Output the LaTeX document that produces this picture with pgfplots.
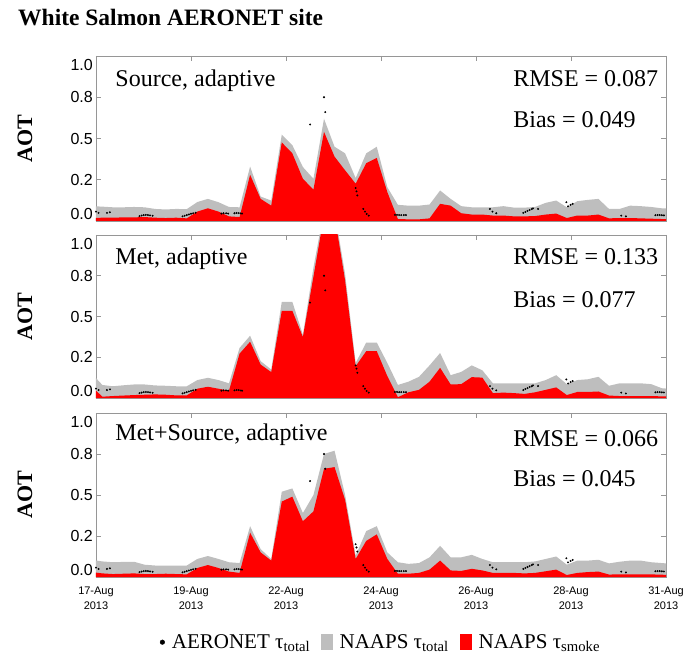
\documentclass[border=0pt]{standalone}
\usepackage{pgfplots}
\pgfplotsset{compat=1.18}
\usepackage{pgfplotstable}
\usepackage{fontspec}
\setmainfont{Liberation Serif}
\newfontfamily\sansf{Liberation Sans}
\definecolor{naapsgray}{RGB}{190,190,190}
\definecolor{smokered}{RGB}{255,0,0}
\definecolor{axisgray}{RGB}{150,150,150}

% day since 17-Aug-2013 00 UTC, NAAPS total AOT, NAAPS smoke AOT
\pgfplotstableread{
x G R
-0.10 0.090 0.018
0.15 0.087 0.020
0.40 0.083 0.020
0.65 0.083 0.022
0.90 0.085 0.022
1.15 0.083 0.024
1.40 0.073 0.020
1.65 0.070 0.018
1.90 0.073 0.020
2.15 0.072 0.016
2.40 0.115 0.057
2.65 0.134 0.077
2.90 0.114 0.057
3.15 0.085 0.028
3.40 0.083 0.024
3.65 0.330 0.280
3.90 0.148 0.134
4.15 0.124 0.093
4.40 0.524 0.476
4.65 0.460 0.410
4.90 0.327 0.256
5.15 0.256 0.190
5.40 0.620 0.540
5.65 0.450 0.390
5.90 0.410 0.307
6.15 0.260 0.226
6.40 0.410 0.350
6.65 0.450 0.382
6.90 0.205 0.175
7.15 0.098 0.012
7.40 0.093 0.010
7.65 0.093 0.010
7.90 0.100 0.016
8.15 0.185 0.104
8.40 0.134 0.093
8.65 0.090 0.047
8.90 0.083 0.039
9.15 0.083 0.039
9.40 0.083 0.033
9.65 0.090 0.033
9.90 0.081 0.028
10.15 0.081 0.028
10.40 0.085 0.030
10.65 0.110 0.039
10.90 0.124 0.045
11.15 0.083 0.018
11.40 0.120 0.033
11.65 0.128 0.033
11.90 0.134 0.039
12.15 0.073 0.016
12.40 0.073 0.018
12.65 0.093 0.018
12.90 0.090 0.016
13.15 0.085 0.014
13.40 0.077 0.012
13.65 0.077 0.012
}\srcdata

\pgfplotstableread{
x G R
-0.10 0.150 0.070
0.15 0.080 0.008
0.40 0.072 0.012
0.65 0.078 0.015
0.90 0.083 0.018
1.15 0.083 0.020
1.40 0.077 0.022
1.65 0.075 0.020
1.90 0.072 0.016
2.15 0.072 0.016
2.40 0.110 0.057
2.65 0.124 0.069
2.90 0.110 0.057
3.15 0.090 0.045
3.40 0.307 0.272
3.65 0.382 0.345
3.90 0.226 0.205
4.15 0.175 0.159
4.40 0.590 0.535
4.65 0.590 0.535
4.90 0.388 0.374
5.15 0.800 0.745
5.40 1.150 1.120
5.65 1.150 1.120
5.90 0.760 0.720
6.15 0.215 0.195
6.40 0.340 0.287
6.65 0.340 0.287
6.90 0.215 0.134
7.15 0.080 0.005
7.40 0.100 0.035
7.65 0.130 0.050
7.90 0.200 0.100
8.15 0.276 0.185
8.40 0.140 0.083
8.65 0.160 0.085
8.90 0.200 0.128
9.15 0.170 0.125
9.40 0.090 0.030
9.65 0.090 0.033
9.90 0.090 0.030
10.15 0.090 0.025
10.40 0.090 0.035
10.65 0.110 0.050
10.90 0.140 0.065
11.15 0.085 0.018
11.40 0.110 0.037
11.65 0.115 0.037
11.90 0.130 0.040
12.15 0.075 0.015
12.40 0.090 0.012
12.65 0.090 0.012
12.90 0.090 0.012
13.15 0.085 0.012
13.40 0.060 0.010
13.65 0.055 0.010
}\metdata

\pgfplotstableread{
x G R
-0.10 0.105 0.030
0.15 0.095 0.022
0.40 0.090 0.018
0.65 0.092 0.020
0.90 0.093 0.022
1.15 0.075 0.018
1.40 0.070 0.018
1.65 0.070 0.020
1.90 0.070 0.018
2.15 0.070 0.016
2.40 0.110 0.055
2.65 0.128 0.073
2.90 0.110 0.055
3.15 0.090 0.033
3.40 0.085 0.025
3.65 0.310 0.270
3.90 0.170 0.150
4.15 0.110 0.100
4.40 0.520 0.460
4.65 0.540 0.490
4.90 0.390 0.340
5.15 0.500 0.400
5.40 0.750 0.660
5.65 0.770 0.670
5.90 0.500 0.470
6.15 0.130 0.110
6.40 0.280 0.220
6.65 0.310 0.260
6.90 0.150 0.110
7.15 0.090 0.020
7.40 0.080 0.020
7.65 0.085 0.025
7.90 0.120 0.045
8.15 0.190 0.100
8.40 0.120 0.040
8.65 0.120 0.037
8.90 0.135 0.050
9.15 0.110 0.040
9.40 0.090 0.025
9.65 0.090 0.025
9.90 0.090 0.025
10.15 0.090 0.022
10.40 0.095 0.025
10.65 0.110 0.035
10.90 0.125 0.045
11.15 0.075 0.012
11.40 0.100 0.025
11.65 0.100 0.030
11.90 0.105 0.033
12.15 0.083 0.015
12.40 0.093 0.016
12.65 0.100 0.016
12.90 0.100 0.016
13.15 0.090 0.016
13.40 0.085 0.014
13.65 0.080 0.012
}\msdata

% AERONET total AOT observations
\pgfplotstableread{
x y
0.00 0.057
0.06 0.049
0.26 0.049
0.33 0.053
1.03 0.030
1.08 0.033
1.13 0.036
1.18 0.037
1.23 0.036
1.28 0.034
1.34 0.032
2.05 0.028
2.10 0.032
2.15 0.036
2.20 0.040
2.25 0.044
2.30 0.047
2.36 0.050
2.97 0.045
3.02 0.047
3.08 0.047
3.13 0.045
3.28 0.047
3.33 0.049
3.38 0.048
3.43 0.046
3.46 0.045
5.07 0.585
5.40 0.750
5.43 0.660
6.15 0.200
6.17 0.180
6.19 0.155
6.33 0.073
6.37 0.057
6.41 0.043
6.46 0.033
7.08 0.037
7.13 0.037
7.18 0.036
7.23 0.036
7.29 0.036
7.34 0.036
9.33 0.073
9.39 0.057
9.48 0.047
10.12 0.049
10.17 0.055
10.22 0.061
10.27 0.067
10.32 0.072
10.35 0.077
10.47 0.073
11.14 0.114
11.18 0.089
11.24 0.098
11.29 0.104
12.44 0.033
12.55 0.028
13.25 0.035
13.30 0.036
13.35 0.036
13.40 0.035
13.45 0.034
}\aerodata

\pgfplotsset{
  panel/.style={
    scale only axis, width=570pt,
    xmin=0, xmax=13.5, ymin=0, ymax=1,
    xtick={0,2.25,4.5,6.75,9,11.25,13.5},
    ytick={0,0.25,0.5,0.75,1},
    yticklabels={\smash{\raisebox{1.2pt}{0.0}},0.2,0.5,0.8,\smash{\raisebox{-14.8pt}{1.0}}},
    tick align=inside, tick pos=both, major tick length=5pt,
    axis line style={axisgray, line width=0.7pt},
    every tick/.style={axisgray, line width=0.7pt},
    /pgf/number format/assume math mode=true,
    ticklabel style={font=\sansf\fontsize{16}{16}\selectfont},
    yticklabel style={inner sep=3pt},
    ylabel={AOT},
    ylabel style={font=\bfseries\fontsize{22}{22}\selectfont, at={(axis description cs:-0.1246,0.5)}, anchor=center},
  },
}
\tikzset{ptext/.style={font=\fontsize{24}{24}\selectfont}}

\begin{document}
\begin{tikzpicture}
\path[use as bounding box] (0pt,0pt) rectangle (686pt,657pt);
\node[anchor=base west, font=\bfseries\fontsize{23.5}{23.5}\selectfont, inner sep=0pt] at (18pt,631.3pt) {White Salmon AERONET site};

% Panel 1
\begin{axis}[panel, height=165pt, at={(96pt,436pt)}, anchor=south west, xticklabels={}]
\addplot[fill=naapsgray, draw=none] table[x=x, y=G] {\srcdata} \closedcycle;
\addplot[fill=smokered, draw=none] table[x=x, y=R] {\srcdata} \closedcycle;
\addplot[only marks, mark=*, mark size=0.75pt, black] table[x=x, y=y] {\aerodata};
\node[ptext, anchor=base west] at (rel axis cs:0.028,0.814) {Source, adaptive};
\node[ptext, anchor=base west] at (rel axis cs:0.726,0.814) {RMSE = 0.087};
\node[ptext, anchor=base west] at (rel axis cs:0.726,0.564) {Bias = 0.049};
\end{axis}

% Panel 2
\begin{axis}[panel, height=163pt, at={(96pt,259pt)}, anchor=south west, xticklabels={}]
\addplot[fill=naapsgray, draw=none] table[x=x, y=G] {\metdata} \closedcycle;
\addplot[fill=smokered, draw=none] table[x=x, y=R] {\metdata} \closedcycle;
\addplot[only marks, mark=*, mark size=0.75pt, black] table[x=x, y=y] {\aerodata};
\node[ptext, anchor=base west] at (rel axis cs:0.028,0.816) {Met, adaptive};
\node[ptext, anchor=base west] at (rel axis cs:0.726,0.816) {RMSE = 0.133};
\node[ptext, anchor=base west] at (rel axis cs:0.726,0.558) {Bias = 0.077};
\end{axis}

% Panel 3
\begin{axis}[panel, height=164pt, at={(96pt,80pt)}, anchor=south west,
  xticklabels={{17-Aug\\2013},{19-Aug\\2013},{22-Aug\\2013},{24-Aug\\2013},{26-Aug\\2013},{28-Aug\\2013},{31-Aug\\2013}},
  xticklabel style={align=center, font=\sansf\fontsize{11}{15}\selectfont, yshift=-6pt},
  legend style={draw=none, fill=none, at={(0.5,-0.47)}, anchor=south, legend columns=3,
    font=\fontsize{21}{21}\selectfont,
    /tikz/every odd column/.append style={column sep=5pt},
    /tikz/every even column/.append style={column sep=9pt}},
]
\addplot[fill=naapsgray, draw=none, forget plot] table[x=x, y=G] {\msdata} \closedcycle;
\addplot[fill=smokered, draw=none, forget plot] table[x=x, y=R] {\msdata} \closedcycle;
\addplot[only marks, mark=*, mark size=0.75pt, black, forget plot] table[x=x, y=y] {\aerodata};
\node[ptext, anchor=base west] at (rel axis cs:0.028,0.835) {Met+Source, adaptive};
\node[ptext, anchor=base west] at (rel axis cs:0.726,0.794) {RMSE = 0.066};
\node[ptext, anchor=base west] at (rel axis cs:0.726,0.550) {Bias = 0.045};
\addlegendimage{legend image code/.code={\fill[black] (3pt,0pt) circle (2.3pt);}}
\addlegendentry{AERONET τ\textsubscript{total}}
\addlegendimage{legend image code/.code={\fill[naapsgray] (0pt,-7pt) rectangle (11pt,8pt);}}
\addlegendentry{NAAPS τ\textsubscript{total}}
\addlegendimage{legend image code/.code={\fill[smokered] (0pt,-7pt) rectangle (11.5pt,8pt);}}
\addlegendentry{NAAPS τ\textsubscript{smoke}}
\end{axis}
\end{tikzpicture}
\end{document}
